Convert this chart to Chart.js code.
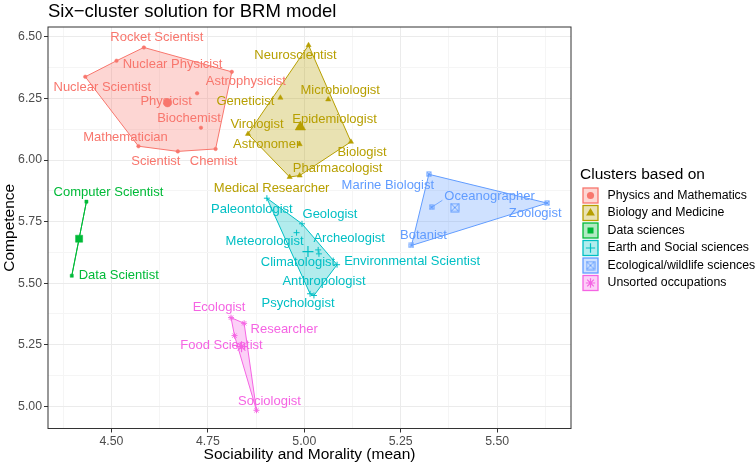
<!DOCTYPE html>
<html>
<head>
<meta charset="utf-8">
<script src="https://cdn.jsdelivr.net/npm/chart.js@4.4.1/dist/chart.umd.min.js"></script>
<style>
  body { margin: 0; background: #fff; }
  #wrap { width: 756px; height: 465px; }
</style>
</head>
<body>
<div id="wrap"><canvas id="myChart" width="756" height="465"></canvas></div>
<script>
// clusters and occupations
const clusterNames = ["Physics and Mathematics", "Biology and Medicine", "Data sciences",
    "Earth and Social sciences", "Ecological/wildlife sciences", "Unsorted occupations"];

const occupations = [
    "Rocket Scientist", "Nuclear Physicist", "Nuclear Scientist", "Astrophysicist", "Physicist",
    "Biochemist", "Mathematician", "Scientist", "Chemist",
    "Neuroscientist", "Microbiologist", "Geneticist", "Epidemiologist", "Virologist",
    "Astronomer", "Biologist", "Pharmacologist", "Medical Researcher",
    "Computer Scientist", "Data Scientist",
    "Paleontologist", "Geologist", "Meteorologist", "Archeologist", "Climatologist",
    "Environmental Scientist", "Anthropologist", "Psychologist",
    "Marine Biologist", "Oceanographer", "Zoologist", "Botanist",
    "Ecologist", "Researcher", "Food Scientist", "Sociologist",
];
const sociability = [
    4.584, 4.513, 4.432, 4.812, 4.722, 4.732, 4.570, 4.672, 4.770,
    5.011, 5.062, 4.938, 4.985, 4.854, 4.988, 5.121, 4.988, 4.962,
    4.435, 4.397,
    4.903, 4.994, 4.980, 5.036, 5.038, 5.085, 5.025, 5.015,
    5.323, 5.330, 5.630, 5.278,
    4.810, 4.844, 4.819, 4.876,
];
const competence = [
    6.457, 6.403, 6.338, 6.358, 6.271, 6.131, 6.056, 6.035, 6.045,
    6.466, 6.246, 6.253, 6.130, 6.106, 6.064, 6.074, 5.937, 5.931,
    5.831, 5.530,
    5.845, 5.741, 5.705, 5.635, 5.619, 5.575, 5.450, 5.457,
    5.942, 5.808, 5.825, 5.653,
    5.360, 5.337, 5.287, 4.984,
];
const clusterOf = [
    0, 0, 0, 0, 0, 0, 0, 0, 0,
    1, 1, 1, 1, 1, 1, 1, 1, 1,
    2, 2,
    3, 3, 3, 3, 3, 3, 3, 3,
    4, 4, 4, 4,
    5, 5, 5, 5,
];
const xTicks = [4.50, 4.75, 5.00, 5.25, 5.50];
const yTicks = [5.00, 5.25, 5.50, 5.75, 6.00, 6.25, 6.50];

// label placement (pixel nudges from the point, like the repelled labels)
const labelNudge = {
    "Rocket Scientist": [13, -10], "Nuclear Physicist": [56, 4], "Nuclear Scientist": [17, 11],
    "Astrophysicist": [14, 10], "Physicist": [-31, 8], "Biochemist": [-12, -9],
    "Mathematician": [-13, -9], "Scientist": [-22, 10], "Chemist": [-2, 12],
    "Neuroscientist": [-13, 10], "Microbiologist": [12, -9], "Geneticist": [-35, 4],
    "Epidemiologist": [36, -9], "Virologist": [9, -9], "Astronomer": [-33, 0],
    "Biologist": [11, 11], "Pharmacologist": [38, -7], "Medical Researcher": [-18, 11],
    "Computer Scientist": [22, -9], "Data Scientist": [47, 0],
    "Paleontologist": [-15, 11], "Geologist": [28, -9], "Meteorologist": [-32, 9],
    "Archeologist": [31, -11], "Climatologist": [-21, 9], "Environmental Scientist": [75, -3],
    "Anthropologist": [10, -14], "Psychologist": [-12, 10],
    "Marine Biologist": [-41, 11], "Oceanographer": [58, -11], "Zoologist": [-12, 10], "Botanist": [12, -10],
    "Ecologist": [-12, -10], "Researcher": [40, 6], "Food Scientist": [-13, 10], "Sociologist": [13, -9],
};
const withSegment = ["Oceanographer"];

const palette = ["#F8766D", "#B79F00", "#00BA38", "#00BFC4", "#619CFF", "#F564E3"];
const FONT = '"Liberation Sans", Arial, sans-serif';

// square with a cross inside (ggplot shape 7)
const makeSquareCross = (size, color) => {
    const c = document.createElement("canvas");
    c.width = size + 2;
    c.height = size + 2;
    const g = c.getContext("2d");
    g.strokeStyle = color;
    g.lineWidth = 1;
    g.strokeRect(1, 1, size, size);
    g.beginPath();
    g.moveTo(1, 1); g.lineTo(size + 1, size + 1);
    g.moveTo(size + 1, 1); g.lineTo(1, size + 1);
    g.stroke();
    return c;
};

const smallStyle = [
    { pointStyle: "circle", radius: 1.8, filled: true },
    { pointStyle: "triangle", radius: 3, filled: true },
    { pointStyle: "rect", radius: 2.2, filled: true },
    { pointStyle: "cross", radius: 3, filled: false },
    { pointStyle: makeSquareCross(4, palette[4]), radius: 3, filled: false },
    { pointStyle: "star", radius: 3, filled: false },
];
const bigStyle = [
    { pointStyle: "circle", radius: 4.2, filled: true },
    { pointStyle: "triangle", radius: 6, filled: true },
    { pointStyle: "rect", radius: 5, filled: true },
    { pointStyle: "cross", radius: 5.5, filled: false },
    { pointStyle: makeSquareCross(8, palette[4]), radius: 5, filled: false },
    { pointStyle: "star", radius: 5.5, filled: false },
];

const convexHull = (pts) => {
    const p = pts.slice().sort((a, b) => a.x - b.x || a.y - b.y);
    const cross = (o, a, b) => (a.x - o.x) * (b.y - o.y) - (a.y - o.y) * (b.x - o.x);
    const lower = [];
    for (const q of p) {
        while (lower.length >= 2 && cross(lower[lower.length - 2], lower[lower.length - 1], q) <= 0) lower.pop();
        lower.push(q);
    }
    const upper = [];
    for (let i = p.length - 1; i >= 0; i--) {
        const q = p[i];
        while (upper.length >= 2 && cross(upper[upper.length - 2], upper[upper.length - 1], q) <= 0) upper.pop();
        upper.push(q);
    }
    upper.pop();
    lower.pop();
    return lower.concat(upper);
};

const datasets = [];
clusterNames.forEach((name, k) => {
    const pts = [];
    occupations.forEach((occ, i) => {
        if (clusterOf[i] === k) pts.push({ x: sociability[i], y: competence[i] });
    });
    const hull = convexHull(pts);
    datasets.push({
        type: "line",
        label: name + " hull",
        data: hull.concat([hull[0]]),
        borderColor: palette[k],
        borderWidth: 1,
        backgroundColor: palette[k] + "4D",
        fill: "shape",
        tension: 0,
        pointRadius: 0,
        order: 3,
    });
    const s = smallStyle[k];
    datasets.push({
        label: name,
        data: pts,
        pointStyle: s.pointStyle,
        pointRadius: s.radius,
        pointBackgroundColor: palette[k],
        pointBorderColor: palette[k],
        pointBorderWidth: s.filled ? 0.5 : 1,
        order: 2,
    });
    const mean = {
        x: pts.reduce((a, q) => a + q.x, 0) / pts.length,
        y: pts.reduce((a, q) => a + q.y, 0) / pts.length,
    };
    const b = bigStyle[k];
    datasets.push({
        label: name + " centre",
        data: [mean],
        pointStyle: b.pointStyle,
        pointRadius: b.radius,
        pointBackgroundColor: palette[k],
        pointBorderColor: palette[k],
        pointBorderWidth: b.filled ? 0.5 : 1.2,
        order: 1,
    });
});

// axis limits with ggplot's 5% expansion
const expand = (vals) => {
    const lo = Math.min(...vals), hi = Math.max(...vals);
    const pad = (hi - lo) * 0.05;
    return [lo - pad, hi + pad];
};
const [xMin, xMax] = expand(sociability);
const [yMin, yMax] = expand(competence);

const isMajor = (v, list) => list.some((t) => Math.abs(t - v) < 1e-6);

const axisOptions = (majors, min, max) => ({
    type: "linear",
    min: min,
    max: max,
    border: { display: false },
    grid: {
        color: (c) => (c.tick && isMajor(c.tick.value, majors) ? "#EBEBEB" : "#F5F5F5"),
        lineWidth: 1,
        tickLength: 4,
        tickColor: (c) => (c.tick && isMajor(c.tick.value, majors) ? "#333333" : "rgba(0,0,0,0)"),
    },
    ticks: {
        stepSize: 0.125,
        includeBounds: false,
        autoSkip: false,
        maxTicksLimit: 100,
        maxRotation: 0,
        padding: 2,
        color: "#4D4D4D",
        font: { size: 12.3, family: FONT },
        callback: (v) => (isMajor(v, majors) ? Number(v).toFixed(2) : ""),
    },
});

const textLayer = {
    id: "textLayer",
    afterDatasetsDraw(chart) {
        const { ctx } = chart;
        const xs = chart.scales.x, ys = chart.scales.y;
        ctx.save();
        ctx.font = "13px " + FONT;
        ctx.textAlign = "center";
        ctx.textBaseline = "middle";
        occupations.forEach((name, i) => {
            const px = xs.getPixelForValue(sociability[i]);
            const py = ys.getPixelForValue(competence[i]);
            const [dx, dy] = labelNudge[name] || [0, -10];
            const color = palette[clusterOf[i]];
            if (withSegment.includes(name)) {
                const w = ctx.measureText(name).width;
                ctx.strokeStyle = color;
                ctx.lineWidth = 0.8;
                ctx.beginPath();
                ctx.moveTo(px, py);
                ctx.lineTo(px + dx - w / 2 - 2, py + dy + 4);
                ctx.stroke();
            }
            ctx.fillStyle = color;
            ctx.fillText(name, px + dx, py + dy);
        });
        ctx.restore();
    },
    afterDraw(chart) {
        const { ctx, chartArea: a } = chart;
        ctx.save();
        // panel border
        ctx.strokeStyle = "#333333";
        ctx.lineWidth = 1;
        ctx.strokeRect(a.left, a.top, a.right - a.left, a.bottom - a.top);

        // title and axis titles
        ctx.fillStyle = "#000";
        ctx.textBaseline = "middle";
        ctx.textAlign = "left";
        ctx.font = "18.5px " + FONT;
        ctx.fillText("Six\u2212cluster solution for BRM model", a.left, 12);
        ctx.font = "15.5px " + FONT;
        ctx.textAlign = "center";
        ctx.fillText("Sociability and Morality (mean)", (a.left + a.right) / 2, 455);
        ctx.save();
        ctx.translate(10, (a.top + a.bottom) / 2);
        ctx.rotate(-Math.PI / 2);
        ctx.fillText("Competence", 0, 0);
        ctx.restore();

        // legend
        ctx.textAlign = "left";
        ctx.font = "15.5px " + FONT;
        ctx.fillText("Clusters based on", 580, 175);
        ctx.font = "12.3px " + FONT;
        clusterNames.forEach((name, k) => {
            const cy = 195.5 + k * 17.5;
            ctx.fillStyle = palette[k] + "4D";
            ctx.fillRect(583, cy - 7.5, 15, 15);
            ctx.strokeStyle = palette[k];
            ctx.lineWidth = 1.3;
            ctx.strokeRect(583, cy - 7.5, 15, 15);
            const b = bigStyle[k];
            ctx.fillStyle = palette[k];
            ctx.strokeStyle = palette[k];
            ctx.lineWidth = 1.2;
            Chart.helpers.drawPoint(ctx, {
                pointStyle: b.pointStyle, rotation: 0, radius: b.radius * 0.85,
                borderWidth: b.filled ? 0 : 1.2,
            }, 590.5, cy);
            ctx.fillStyle = "#000";
            ctx.fillText(name, 607.5, cy);
        });
        ctx.restore();
    },
};

const ctx = document.getElementById("myChart");
new Chart(ctx, {
    type: "scatter",
    data: { datasets: datasets },
    options: {
        responsive: false,
        animation: false,
        devicePixelRatio: 1,
        layout: { padding: { left: 0, top: 27, right: 185, bottom: 0 } },
        plugins: {
            legend: { display: false },
            tooltip: { enabled: false },
        },
        scales: {
            x: Object.assign(axisOptions(xTicks, xMin, xMax), {
                afterFit: (s) => { s.height = 36.5; },
            }),
            y: Object.assign(axisOptions(yTicks, yMin, yMax), {
                afterFit: (s) => { s.width = 48; },
            }),
        },
    },
    plugins: [textLayer],
});
</script>
</body>
</html>
